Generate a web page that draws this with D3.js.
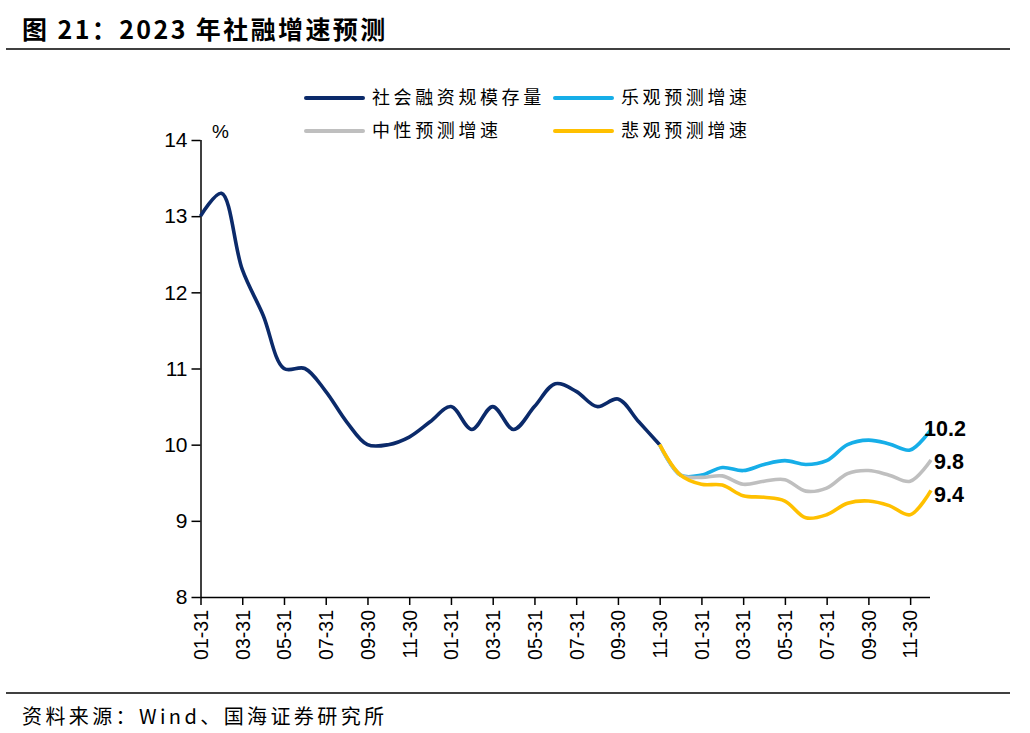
<!DOCTYPE html>
<html lang="zh">
<head>
<meta charset="utf-8">
<title>2023年社融增速预测</title>
<script src="https://cdn.jsdelivr.net/npm/d3@7"></script>
<style>
  body { margin: 0; background: #fff; }
  svg text { font-family: "Liberation Sans", Arial, sans-serif; }
  .cjk { font-family: "Noto Sans CJK SC", "Noto Sans", sans-serif; }
</style>
</head>
<body>
<div id="chart"></div>
<script>
// month-end dates, 2021-01 .. 2023-12
const months = [
  "2021-01-31","2021-02-28","2021-03-31","2021-04-30","2021-05-31","2021-06-30",
  "2021-07-31","2021-08-31","2021-09-30","2021-10-31","2021-11-30","2021-12-31",
  "2022-01-31","2022-02-28","2022-03-31","2022-04-30","2022-05-31","2022-06-30",
  "2022-07-31","2022-08-31","2022-09-30","2022-10-31","2022-11-30","2022-12-31",
  "2023-01-31","2023-02-28","2023-03-31","2023-04-30","2023-05-31","2023-06-30",
  "2023-07-31","2023-08-31","2023-09-30","2023-10-31","2023-11-30","2023-12-31"
];
// 社会融资规模存量 growth, 2021-01 .. 2022-11
const stock = [13.0, 13.3, 12.3, 11.7, 11.0, 11.0, 10.7, 10.3, 10.0, 10.0, 10.1, 10.3,
               10.5, 10.2, 10.5, 10.2, 10.5, 10.8, 10.7, 10.5, 10.6, 10.3, 10.0];
// forecasts, 2022-11 .. 2023-12
const forecastStart = 22;
const optimistic = [10.0, 9.6, 9.6, 9.7, 9.66, 9.74, 9.79, 9.74, 9.79, 10.0, 10.06, 10.01, 9.93, 10.2];
const neutral    = [10.0, 9.6, 9.57, 9.59, 9.48, 9.52, 9.54, 9.39, 9.43, 9.62, 9.66, 9.6, 9.52, 9.8];
const pessimistic= [10.0, 9.6, 9.48, 9.47, 9.33, 9.31, 9.26, 9.04, 9.08, 9.23, 9.26, 9.2, 9.08, 9.4];
const yTicks = [8, 9, 10, 11, 12, 13, 14];

const width = 1030, height = 733;
const colors = { stock: "#0b2a6a", opt: "#16aee8", neu: "#bfbfbf", pes: "#ffc000" };

const svg = d3.select("#chart").append("svg").attr("width", width).attr("height", height);

// title + rules
svg.append("text").attr("class", "cjk").attr("x", 22).attr("y", 39)
  .attr("font-size", 25).attr("font-weight", "bold").attr("letter-spacing", 2.4)
  .text("图 21：2023 年社融增速预测");
svg.append("line").attr("x1", 6).attr("x2", 1010).attr("y1", 49).attr("y2", 49)
  .attr("stroke", "#000").attr("stroke-width", 1.5);
svg.append("line").attr("x1", 6).attr("x2", 1010).attr("y1", 693).attr("y2", 693)
  .attr("stroke", "#000").attr("stroke-width", 1.5);
svg.append("text").attr("class", "cjk").attr("x", 22).attr("y", 724)
  .attr("font-size", 20).attr("letter-spacing", 3.4).text("资料来源：Wind、国海证券研究所");

const x = d3.scalePoint().domain(months).range([200.5, 931]);
const y = d3.scaleLinear().domain([8, 14]).range([597, 140]);

// axes
const yAxis = svg.append("g").attr("transform", "translate(200.5,0)")
  .call(d3.axisLeft(y).tickValues(yTicks).tickSize(9).tickPadding(4).tickFormat(d3.format("d")));
yAxis.selectAll("text").attr("font-size", 21).attr("fill", "#000");

const xAxis = svg.append("g").attr("transform", "translate(0,597)")
  .call(d3.axisBottom(x).tickValues(months.filter((d, i) => i % 2 === 0))
    .tickSize(8).tickFormat(d => d.slice(5)));
xAxis.selectAll("text")
  .attr("font-size", 19.5).attr("fill", "#000")
  .attr("transform", "rotate(-90)")
  .attr("text-anchor", "end").attr("dy", "0.35em")
  .attr("x", -13).attr("y", 0);
svg.selectAll(".domain").attr("stroke", "#000").attr("stroke-width", 1.5);
svg.selectAll(".tick line").attr("stroke", "#000").attr("stroke-width", 1.5);
xAxis.select(".domain").attr("d", "M200.5,0.5H930");
yAxis.select(".domain").attr("d", "M0.5,140V597");

svg.append("text").attr("x", 212).attr("y", 138).attr("font-size", 19).text("%");

// lines
const line = d3.line()
  .x(d => x(months[d.i]))
  .y(d => y(d.v))
  .curve(d3.curveCatmullRom.alpha(0.5));

function series(vals, offset) { return vals.map((v, k) => ({ i: k + offset, v: v })); }

const paths = [
  [series(stock, 0), colors.stock],
  [series(optimistic, forecastStart), colors.opt],
  [series(neutral, forecastStart), colors.neu],
  [series(pessimistic, forecastStart), colors.pes]
];
paths.forEach(([d, c]) => {
  svg.append("path").datum(d).attr("d", line)
    .attr("fill", "none").attr("stroke", c).attr("stroke-width", 3.6)
    .attr("stroke-linejoin", "round");
});

// end labels
const endLabels = [
  [optimistic[optimistic.length - 1], 924, -1],
  [neutral[neutral.length - 1], 934, 2],
  [pessimistic[pessimistic.length - 1], 934, 4]
];
endLabels.forEach(([v, lx, dy]) => {
  svg.append("text").attr("x", lx).attr("y", y(v) + dy).attr("dy", "0.35em")
    .attr("font-size", 21.5).attr("font-weight", "bold").text(d3.format(".1f")(v));
});

// legend
const legend = [
  ["社会融资规模存量", colors.stock, 306, 98],
  ["乐观预测增速", colors.opt, 555, 98],
  ["中性预测增速", colors.neu, 306, 131],
  ["悲观预测增速", colors.pes, 555, 131]
];
legend.forEach(([name, c, lx, ly]) => {
  svg.append("line").attr("x1", lx).attr("x2", lx + 57).attr("y1", ly).attr("y2", ly)
    .attr("stroke", c).attr("stroke-width", 4).attr("stroke-linecap", "round");
  svg.append("text").attr("class", "cjk").attr("x", lx + 66).attr("y", ly).attr("dy", "0.36em")
    .attr("font-size", 18).attr("letter-spacing", 3.6).text(name);
});
</script>
</body>
</html>
